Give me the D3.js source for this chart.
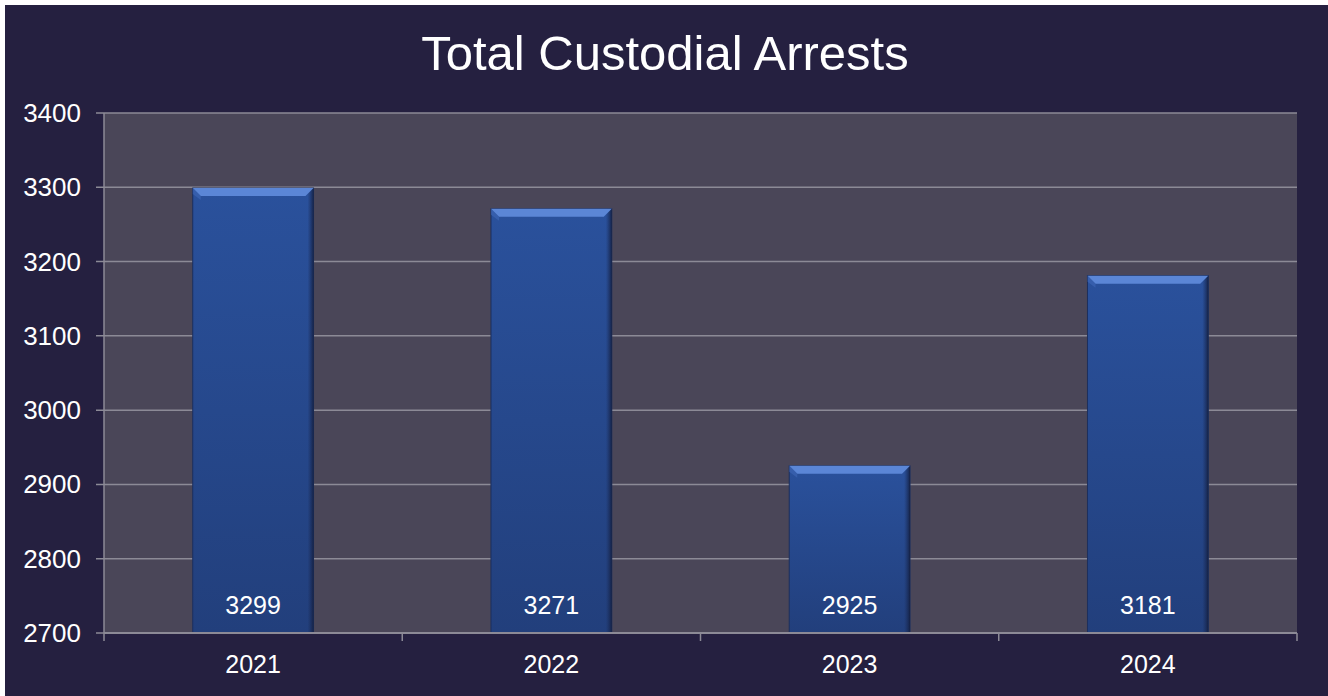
<!DOCTYPE html>
<html>
<head>
<meta charset="utf-8">
<script src="https://cdn.jsdelivr.net/npm/d3@7"></script>
<style>
  body { margin: 0; background: #ffffff; }
  svg { display: block; }
  text { font-family: "Liberation Sans", Arial, sans-serif; fill: #ffffff; }
</style>
</head>
<body>
<svg id="chart"></svg>
<script>
const years = ["2021", "2022", "2023", "2024"];
const arrests = [3299, 3271, 2925, 3181];
const yTicks = [2700, 2800, 2900, 3000, 3100, 3200, 3300, 3400];

const size = { w: 1328, h: 696 };
const plot = { l: 104, r: 1297, t: 113, b: 633 };

const svg = d3.select("svg#chart").attr("width", size.w).attr("height", size.h);

// outer background
svg.append("rect")
	.attr("x", 5).attr("y", 5)
	.attr("width", size.w - 5).attr("height", size.h - 5)
	.attr("fill", "#252040");

const defs = svg.append("defs");
const grad = defs.append("linearGradient").attr("id", "barFill")
	.attr("x1", 0).attr("y1", 0).attr("x2", 0).attr("y2", 1);
grad.append("stop").attr("offset", "0%").attr("stop-color", "#2a519c");
grad.append("stop").attr("offset", "100%").attr("stop-color", "#223f7c");

const side = defs.append("linearGradient").attr("id", "sideFill")
	.attr("x1", 0).attr("y1", 0).attr("x2", 1).attr("y2", 0);
side.append("stop").attr("offset", "0%").attr("stop-color", "#1a2a55").attr("stop-opacity", 0);
side.append("stop").attr("offset", "100%").attr("stop-color", "#141f40").attr("stop-opacity", 0.9);

const x = d3.scaleBand().domain(years).range([plot.l, plot.r]).paddingInner(0.595).paddingOuter(0.2975);
const y = d3.scaleLinear().domain([2700, 3400]).range([plot.b, plot.t]);

// plot area
svg.append("rect")
	.attr("x", plot.l).attr("y", plot.t)
	.attr("width", plot.r - plot.l).attr("height", plot.b - plot.t)
	.attr("fill", "#4a4658");

// gridlines
svg.append("g")
	.selectAll("line")
	.data(yTicks)
	.join("line")
	.attr("x1", plot.l - 8).attr("x2", plot.r)
	.attr("y1", (d) => y(d)).attr("y2", (d) => y(d))
	.attr("stroke", "#8c8a96").attr("stroke-width", 1.5);

// bars
const bars = svg.append("g")
	.selectAll("g")
	.data(years.map((d, i) => ({ year: d, value: arrests[i] })))
	.join("g");

bars.append("rect")
	.attr("x", (d) => x(d.year))
	.attr("y", (d) => y(d.value))
	.attr("width", x.bandwidth())
	.attr("height", (d) => y(2700) - y(d.value))
	.attr("fill", "url(#barFill)")
	.attr("stroke", "#1c2f5e").attr("stroke-width", 1);

// right-side shade
bars.append("rect")
	.attr("x", (d) => x(d.year) + x.bandwidth() - 6)
	.attr("y", (d) => y(d.value))
	.attr("width", 6)
	.attr("height", (d) => y(2700) - y(d.value))
	.attr("fill", "url(#sideFill)");

// top bevel
bars.append("path")
	.attr("d", (d) => {
		const x0 = x(d.year), x1 = x0 + x.bandwidth(), yt = y(d.value);
		return `M${x0},${yt} L${x1},${yt} L${x1 - 8},${yt + 8} L${x0 + 8},${yt + 8} Z`;
	})
	.attr("fill", "#5b86d6");

bars.append("path")
	.attr("d", (d) => {
		const x0 = x(d.year), yt = y(d.value);
		return `M${x0},${yt} L${x0 + 8},${yt + 8} L${x0 + 8},${yt + 12} L${x0},${yt + 6} Z`;
	})
	.attr("fill", "#3f68b8").attr("opacity", 0.6);

// bar value labels
bars.append("text")
	.attr("x", (d) => x(d.year) + x.bandwidth() / 2)
	.attr("y", 614)
	.attr("text-anchor", "middle")
	.attr("font-size", 25)
	.text((d) => d.value);

// axes lines
svg.append("line")
	.attr("x1", plot.l).attr("x2", plot.l)
	.attr("y1", plot.t).attr("y2", plot.b + 8)
	.attr("stroke", "#8c8a96").attr("stroke-width", 1.5);

svg.append("line")
	.attr("x1", plot.l).attr("x2", plot.r)
	.attr("y1", plot.b).attr("y2", plot.b)
	.attr("stroke", "#8c8a96").attr("stroke-width", 2);

// category ticks at band boundaries
const bounds = years.map((d) => x(d) - x.step() * x.paddingInner() / 2).slice(1).concat([plot.r]);
svg.append("g")
	.selectAll("line")
	.data(bounds)
	.join("line")
	.attr("x1", (d) => d).attr("x2", (d) => d)
	.attr("y1", plot.b).attr("y2", plot.b + 8)
	.attr("stroke", "#8c8a96").attr("stroke-width", 1.5);

// y labels
svg.append("g")
	.selectAll("text")
	.data(yTicks)
	.join("text")
	.attr("x", 81)
	.attr("y", (d) => y(d) + 9)
	.attr("text-anchor", "end")
	.attr("font-size", 26)
	.text((d) => d);

// x labels
svg.append("g")
	.selectAll("text")
	.data(years)
	.join("text")
	.attr("x", (d) => x(d) + x.bandwidth() / 2)
	.attr("y", 673)
	.attr("text-anchor", "middle")
	.attr("font-size", 25)
	.text((d) => d);

// title
svg.append("text")
	.attr("x", 665).attr("y", 70)
	.attr("text-anchor", "middle")
	.attr("font-size", 49)
	.text("Total Custodial Arrests");
</script>
</body>
</html>
